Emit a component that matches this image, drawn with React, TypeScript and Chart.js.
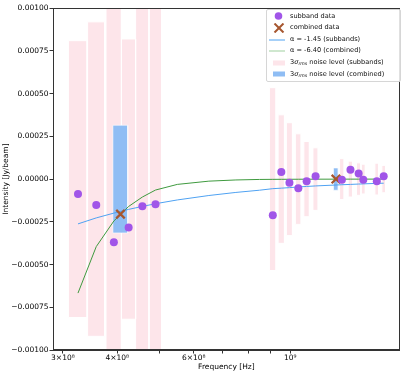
import React, { useEffect, useRef } from 'react';
import { Chart, registerables } from 'chart.js';

Chart.register(...registerables);

// ---------------- data ----------------
const subbandFreqHz = [
  3.25e8, 3.58e8, 3.93e8, 4.25e8, 4.57e8, 4.90e8,
  9.12e8, 9.54e8, 9.96e8, 1.044e9, 1.091e9, 1.144e9,
  1.315e9, 1.376e9, 1.437e9, 1.473e9, 1.582e9, 1.641e9,
];
const subbandFlux = [
  -8.7e-5, -1.51e-4, -3.70e-4, -2.83e-4, -1.59e-4, -1.47e-4,
  -2.11e-4, 4.2e-5, -2.2e-5, -5.4e-5, -1.3e-5, 1.6e-5,
  -4e-6, 5.4e-5, 3.3e-5, -4e-6, -1.2e-5, 1.7e-5,
];
const subbandNoise3Sigma = [
  8.1e-4, 9.2e-4, 1.2e-3, 8.2e-4, 1.2e-3, 1.2e-3,
  5.35e-4, 3.76e-4, 3.3e-4, 2.65e-4, 2.2e-4, 1.83e-4,
  1.2e-4, 1.05e-4, 9.5e-5, 8.7e-5, 9.3e-5, 8e-5,
];
const combinedFreqHz = [4.07e8, 1.274e9];
const combinedFlux = [-2.05e-4, 0];
const combinedNoise3Sigma = [3.15e-4, 6.5e-5];
const bandwidthHz = 3.2e7;

const modelFreqHz = [
  3.25e8, 3.58e8, 3.93e8, 4.25e8, 4.57e8, 4.90e8,
  5.5e8, 6.5e8, 7.5e8, 8.5e8,
  9.12e8, 9.54e8, 9.96e8, 1.044e9, 1.091e9, 1.144e9,
  1.315e9, 1.376e9, 1.437e9, 1.473e9, 1.582e9, 1.641e9,
];
// alpha = -1.45 (subbands)
const modelSubbandFlux = [
  -2.62e-4, -2.27e-4, -1.99e-4, -1.77e-4, -1.60e-4, -1.44e-4,
  -1.22e-4, -9.6e-5, -7.8e-5, -6.5e-5,
  -5.6e-5, -5.3e-5, -5.0e-5, -4.6e-5, -4.3e-5, -4.0e-5,
  -3.3e-5, -3.1e-5, -2.9e-5, -2.8e-5, -2.5e-5, -2.4e-5,
];
// alpha = -6.40 (combined)
const modelCombinedFlux = [
  -6.67e-4, -3.95e-4, -2.45e-4, -1.6e-4, -1.05e-4, -6.4e-5,
  -3.1e-5, -1.2e-5, -5e-6, -2e-6,
  -1.5e-6, -1.2e-6, -1e-6, -8e-7, -6e-7, -5e-7,
  -3e-7, -2e-7, -2e-7, -1e-7, -1e-7, -1e-7,
];

const xTickValues = [3e8, 4e8, 5e8, 6e8, 7e8, 8e8, 9e8, 1e9];
const xTickLabels = ['3×10⁸', '4×10⁸', '', '6×10⁸', '', '', '', '10⁹'];
const yTickValues = [-0.001, -0.00075, -0.0005, -0.00025, 0, 0.00025, 0.0005, 0.00075, 0.001];
const yTickLabels = ['−0.00100', '−0.00075', '−0.00050', '−0.00025', '0.00000', '0.00025', '0.00050', '0.00075', '0.00100'];
const xRange = [2.847e8, 1.787e9];
const yRange = [-0.001, 0.001];

const legendLabels = [
  'subband data',
  'combined data',
  'α = -1.45 (subbands)',
  'α = -6.40 (combined)',
  'noise level (subbands)',
  'noise level (combined)',
];

// ---------------- styles ----------------
const FONT = '"DejaVu Sans", sans-serif';
const PURPLE = '#a155e8';
const BROWN = '#a6562f';
const BLUE_LINE = '#4fa2f2';
const GREEN_LINE = '#3f9a3f';
const GREEN_LEGEND = '#9fd09f';
const PINK = '#fde5ea';
const BLUE_BAR = '#8fbdf4';
const AXIS = '#333';

function rectPoints(f: number, s: number) {
  const a = f - bandwidthHz / 2;
  const b = f + bandwidthHz / 2;
  return [
    { x: a, y: -s },
    { x: a, y: s },
    { x: b, y: s },
    { x: b, y: -s },
    { x: a, y: -s },
  ];
}

const framePlugin = {
  id: 'frame',
  afterDatasetsDraw(chart: any) {
    const { ctx, chartArea } = chart;
    const l = Math.round(chartArea.left) + 0.5;
    const t = Math.round(chartArea.top) + 0.5;
    const r = Math.round(chartArea.right) - 0.5;
    const b = Math.round(chartArea.bottom) - 0.5;
    ctx.save();
    ctx.strokeStyle = AXIS;
    ctx.lineWidth = 1;
    ctx.strokeRect(l, t, r - l, b - t);
    ctx.restore();
  },
};

function LegendMarker({ kind }: { kind: number }) {
  if (kind === 0)
    return (
      <svg width="20" height="10"><circle cx="11.5" cy="5" r="3.8" fill={PURPLE} /></svg>
    );
  if (kind === 1)
    return (
      <svg width="20" height="10">
        <line x1="7.5" y1="0.5" x2="16.5" y2="9.5" stroke={BROWN} strokeWidth="2" />
        <line x1="16.5" y1="0.5" x2="7.5" y2="9.5" stroke={BROWN} strokeWidth="2" />
      </svg>
    );
  if (kind === 2 || kind === 3)
    return (
      <svg width="20" height="10">
        <line x1="2" y1="5" x2="18" y2="5" stroke={kind === 2 ? BLUE_LINE : GREEN_LEGEND} strokeWidth="1" />
      </svg>
    );
  return (
    <svg width="20" height="10">
      <rect x="6" y="2.5" width="12" height="5" fill={kind === 4 ? PINK : BLUE_BAR} />
    </svg>
  );
}

function Legend() {
  return (
    <div
      style={{
        position: 'absolute',
        left: 266,
        top: 9,
        width: 135,
        height: 73,
        boxSizing: 'border-box',
        border: '1px solid #d6d6d6',
        borderRadius: 2,
        background: 'rgba(255,255,255,0.85)',
        fontFamily: FONT,
        fontSize: 6.6,
        color: '#111',
      }}
    >
      {legendLabels.map((lab, i) => (
        <div
          key={i}
          style={{
            position: 'absolute',
            left: 0,
            top: 0.6 + i * 11.6,
            height: 11.6,
            width: 133,
            display: 'flex',
            alignItems: 'center',
          }}
        >
          <div style={{ position: 'absolute', left: 0, top: 0.8 }}>
            <LegendMarker kind={i} />
          </div>
          <div style={{ position: 'absolute', left: 23, whiteSpace: 'nowrap', lineHeight: '11.6px', top: 0 }}>
            {i >= 4 ? (
              <span>
                3<i>σ</i>
                <sub style={{ fontSize: 4.6, verticalAlign: '-1px' }}>
                  <i>rms</i>
                </sub>{' '}
                {lab}
              </span>
            ) : (
              lab
            )}
          </div>
        </div>
      ))}
    </div>
  );
}

export default function App() {
  const ref = useRef<HTMLCanvasElement | null>(null);

  useEffect(() => {
    document.body.style.margin = '0';
    if (!ref.current) return;

    const pinkSets = subbandFreqHz.map((f, i) => ({
      data: rectPoints(f, subbandNoise3Sigma[i]),
      showLine: true,
      fill: 'shape',
      backgroundColor: PINK,
      borderColor: '#ffffff',
      borderWidth: 1,
      pointRadius: 0,
      tension: 0,
    }));
    const blueSets = combinedFreqHz.map((f, i) => ({
      data: rectPoints(f, combinedNoise3Sigma[i]),
      showLine: true,
      fill: 'shape',
      backgroundColor: BLUE_BAR,
      borderColor: '#ffffff',
      borderWidth: 0.6,
      pointRadius: 0,
      tension: 0,
    }));

    const chart = new Chart(ref.current, {
      type: 'scatter',
      data: {
        datasets: [
          {
            data: subbandFreqHz.map((f, i) => ({ x: f, y: subbandFlux[i] })),
            pointStyle: 'circle',
            pointRadius: 4,
            backgroundColor: PURPLE,
            borderWidth: 0,
          },
          {
            data: combinedFreqHz.map((f, i) => ({ x: f, y: combinedFlux[i] })),
            pointStyle: 'crossRot',
            pointRadius: 6,
            borderColor: BROWN,
            backgroundColor: BROWN,
            borderWidth: 2.2,
          },
          {
            data: modelFreqHz.map((f, i) => ({ x: f, y: modelSubbandFlux[i] })),
            showLine: true,
            pointRadius: 0,
            borderColor: BLUE_LINE,
            borderWidth: 1,
            tension: 0,
            fill: false,
          },
          {
            data: modelFreqHz.map((f, i) => ({ x: f, y: modelCombinedFlux[i] })),
            showLine: true,
            pointRadius: 0,
            borderColor: GREEN_LINE,
            borderWidth: 1,
            tension: 0,
            fill: false,
          },
          ...blueSets,
          ...pinkSets,
        ] as any,
      },
      options: {
        animation: false,
        responsive: false,
        events: [],
        layout: { padding: { top: 6, right: 4, left: 0, bottom: 0 } },
        plugins: {
          legend: { display: false },
          tooltip: { enabled: false },
        },
        scales: {
          x: {
            type: 'logarithmic',
            min: xRange[0],
            max: xRange[1],
            afterBuildTicks: (s: any) => {
              s.ticks = xTickValues.map((v) => ({ value: v }));
            },
            afterFit: (s: any) => {
              s.height = 23;
            },
            ticks: {
              autoSkip: false,
              maxRotation: 0,
              minRotation: 0,
              padding: 0,
              color: '#000',
              font: { family: FONT, size: 7.5 },
              callback: (_v: any, i: number) => xTickLabels[i] ?? '',
            },
            grid: {
              display: true,
              drawOnChartArea: false,
              drawTicks: true,
              tickLength: 3.5,
              color: AXIS,
            },
            border: { display: true, color: AXIS },
            title: {
              display: true,
              text: 'Frequency [Hz]',
              color: '#000',
              font: { family: FONT, size: 7.5 },
              padding: { top: 0, bottom: 1.5 },
            },
          },
          y: {
            type: 'linear',
            min: yRange[0],
            max: yRange[1],
            afterBuildTicks: (s: any) => {
              s.ticks = yTickValues.map((v) => ({ value: v }));
            },
            afterFit: (s: any) => {
              s.width = 53;
            },
            ticks: {
              padding: 1,
              color: '#000',
              font: { family: FONT, size: 7.5 },
              callback: (_v: any, i: number) => yTickLabels[i] ?? '',
            },
            grid: {
              display: true,
              drawOnChartArea: false,
              drawTicks: true,
              tickLength: 3.5,
              color: AXIS,
            },
            border: { display: true, color: AXIS },
            title: {
              display: true,
              text: 'Intensity [Jy/beam]',
              color: '#000',
              font: { family: FONT, size: 7.5 },
              padding: { top: 2, bottom: 0 },
            },
          },
        },
      } as any,
      plugins: [framePlugin],
    });

    return () => chart.destroy();
  }, []);

  return (
    <div style={{ position: 'relative', width: 408, height: 373 }}>
      <canvas ref={ref} width={408} height={373} style={{ display: 'block' }} />
      <Legend />
    </div>
  );
}
